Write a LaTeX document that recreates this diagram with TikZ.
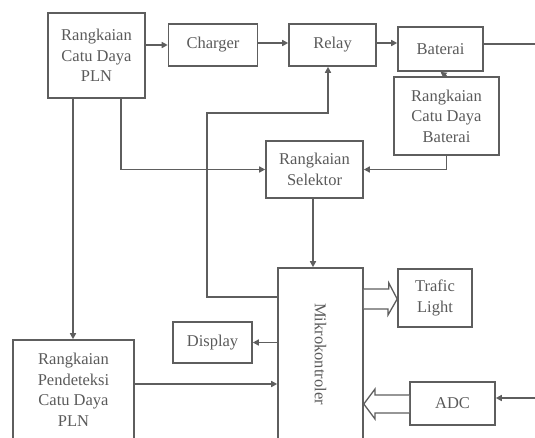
\documentclass[tikz,border=0pt]{standalone}
\usepackage{fontspec}
\setmainfont{Liberation Serif}
\usetikzlibrary{arrows.meta,positioning}
\definecolor{linegray}{HTML}{5E5E5E}
\definecolor{textgray}{HTML}{5A5A5A}
\tikzset{blok/.style={rectangle,draw=linegray,line width=1.6pt,align=center,text=textgray,
  font=\fontsize{16.5}{20.5}\selectfont,inner sep=0pt},
  hub/.style={draw=linegray,line width=1.5pt},
  hollow/.style={draw=linegray,line width=1.3pt,fill=white,line join=miter}}
\begin{document}
\begin{tikzpicture}[x=1pt,y=-1pt,>={Triangle[length=6pt,width=6pt]}]
        \useasboundingbox (0,0) rectangle (535,437);
        \clip (0,0) rectangle (535,437);

        \node[blok,minimum width=97pt,minimum height=85pt] (pln) at (96.5,55.5) {Rangkaian\\Catu Daya\\PLN};
        \node[blok,minimum width=89pt,minimum height=42pt] (charger) at (213,45) {Charger};
        \node[blok,minimum width=87pt,minimum height=42pt] (relay) at (332.5,45) {Relay};
        \node[blok,minimum width=85pt,minimum height=44pt] (baterai) at (440.5,49) {Baterai};
        \node[blok,minimum width=105pt,minimum height=78pt] (catubat) at (446.5,116) {Rangkaian\\Catu Daya\\Baterai};
        \node[blok,minimum width=97pt,minimum height=57pt] (selektor) at (314.5,169.5) {Rangkaian\\Selektor};
        \node[blok,minimum width=85pt,minimum height=172pt] (mikro) at (320.5,354) {\rotatebox{-90}{Mikrokontroler}};
        \node[blok,minimum width=74pt,minimum height=58pt] (trafic) at (435,298) {Trafic\\Light};
        \node[blok,minimum width=85pt,minimum height=43pt] (adc) at (452.5,403.5) {ADC};
        \node[blok,minimum width=79pt,minimum height=41pt] (display) at (212.5,342.5) {Display};
        \node[blok,minimum width=121pt,minimum height=100pt,text depth=0pt] (deteksi) at (73.5,390) {Rangkaian\\Pendeteksi\\Catu Daya\\PLN};

        \coordinate (batout) at (540,44);
        \coordinate (adcin) at (540,398);
        \coordinate (relayturn) at (207,113);

        \draw[hub,->] (pln.east |- charger) -- (charger.west);
        \draw[hub,->] (charger.east |- 0,43) -- (relay.west |- 0,43);
        \draw[hub,->] (relay.east |- 0,43) -- (baterai.west |- 0,43);
        \draw[hub] (baterai.east |- batout) -- (batout);
        \draw[hub,->] (catubat.north) -- (baterai.south);
        \draw[hub,->] (catubat.south) |- (selektor.east);
        \draw[hub,->] (pln.south -| 121,0) |- (selektor.west);
        \draw[hub,->] (pln.south -| 73,0) -- (deteksi.north -| 73,0);
        \draw[hub,->] (selektor.south -| 313,0) -- (mikro.north -| 313,0);
        \draw[hub,->] (mikro.west |- 0,297) -| (relayturn) -| (relay.south -| 328,0);
        \draw[hub,->] (mikro.west |- display) -- (display.east);
        \draw[hub,->] (deteksi.east |- 0,384) -- (mikro.west |- 0,384);
        \draw[hub,->] (adcin) -- (adc.east |- adcin);

        % panah berongga
        \draw[hollow] (mikro.east |- 0,289) -- ++(25,0) -- ++(0,-6) -- (trafic.west |- 0,299)
          -- (388,315) -- ++(0,-6) -- (mikro.east |- 0,309);
        \draw[hollow] (adc.west |- 0,395) -- (375,395) -- ++(0,-6) -- (mikro.east |- 0,404)
          -- (375,419) -- ++(0,-6) -- (adc.west |- 0,413);
\end{tikzpicture}
\end{document}
